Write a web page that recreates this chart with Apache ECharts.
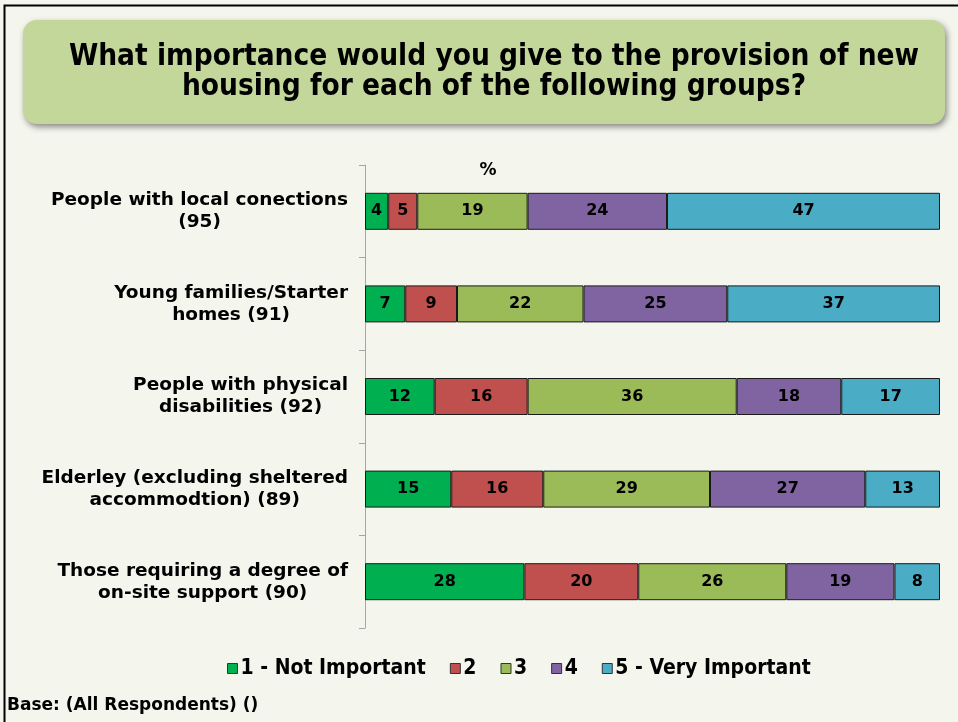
<!DOCTYPE html>
<html>
<head>
<meta charset="utf-8">
<script src="https://cdn.jsdelivr.net/npm/echarts@6/dist/echarts.min.js"></script>
<style>
  html, body { margin: 0; padding: 0; background: #f4f6ee; }
  #chart { width: 958px; height: 722px; }
</style>
</head>
<body>
<div id="chart"></div>
<script>
// Groups asked about, top to bottom
const categories = [
  'People with local conections\n(95)',
  'Young families/Starter\nhomes (91)',
  'People with physical\ndisabilities (92)',
  'Elderley (excluding sheltered\naccommodtion) (89)',
  'Those requiring a degree of\non-site support (90)'
];

// Rating levels and their colours
const levels = ['1 - Not Important', '2', '3', '4', '5 - Very Important'];
const levelColors = ['#00b050', '#c0504d', '#9bbb59', '#8064a2', '#4bacc6'];

// Percentages per rating level, one value per group
const notImportant  = [4, 7, 12, 15, 28];
const level2        = [5, 9, 16, 16, 20];
const level3        = [19, 22, 36, 29, 26];
const level4        = [24, 25, 18, 27, 19];
const veryImportant = [47, 37, 17, 13, 8];

const seriesValues = [notImportant, level2, level3, level4, veryImportant];

// Row totals, so each bar fills the full 100% width
const rowTotals = categories.map((_, i) =>
  seriesValues.reduce((s, arr) => s + arr[i], 0));

const chart = echarts.init(document.getElementById('chart'));

const wideFont = 'Verdana, "DejaVu Sans", sans-serif';
const narrowFont = '"DejaVu Sans Condensed", "DejaVu Sans", sans-serif';

const series = levels.map((name, k) => ({
  name: name,
  type: 'bar',
  stack: 'total',
  barWidth: 37,
  itemStyle: { color: levelColors[k], borderColor: '#1a1a1a', borderWidth: 1 },
  label: {
    show: true,
    position: 'inside',
    color: '#000',
    fontFamily: wideFont,
    fontWeight: 'bold',
    fontSize: 16,
    formatter: p => String(seriesValues[k][p.dataIndex])
  },
  data: seriesValues[k].map((v, i) => ({ value: v / rowTotals[i] * 100 }))
}));

chart.setOption({
  backgroundColor: '#f4f6ee',
  animation: false,
  grid: { left: 365, right: 18, top: 165, bottom: 94, containLabel: false },
  xAxis: {
    type: 'value',
    min: 0,
    max: 100,
    show: false
  },
  yAxis: {
    type: 'category',
    data: categories,
    inverse: true,
    axisLine: { show: true, lineStyle: { color: '#a6a6a6', width: 1 } },
    axisTick: { show: true, length: 6, lineStyle: { color: '#a6a6a6' } },
    axisLabel: {
      align: 'right',
      margin: 17,
      // each line centred within a right-aligned block
      formatter: v => v.split('\n').map(s => '{c|' + s + '}').join('\n'),
      rich: {
        c: {
          align: 'center',
          color: '#000',
          fontFamily: wideFont,
          fontWeight: 'bold',
          fontSize: 18.5,
          lineHeight: 22
        }
      }
    }
  },
  legend: {
    data: levels,
    bottom: 38,
    left: 222,
    itemWidth: 10,
    itemHeight: 10,
    itemGap: 24,
    icon: 'rect',
    itemStyle: { borderColor: '#333', borderWidth: 1 },
    textStyle: {
      color: '#000',
      fontFamily: narrowFont,
      fontWeight: 'bold',
      fontSize: 21,
      padding: [0, 0, 0, -2]
    }
  },
  graphic: [
    // outer frame
    {
      type: 'rect',
      shape: { x: 4.5, y: 5.5, width: 1000, height: 800 },
      style: { fill: null, stroke: '#000', lineWidth: 2 },
      silent: true
    },
    // title panel with shadow
    {
      type: 'rect',
      shape: { x: 23, y: 20, width: 922, height: 104, r: 14 },
      style: {
        fill: '#c4d79b',
        shadowBlur: 6,
        shadowOffsetX: 2,
        shadowOffsetY: 3,
        shadowColor: 'rgba(0,0,0,0.45)'
      },
      silent: true
    },
    {
      type: 'text',
      x: 494,
      y: 42,
      style: {
        text: 'What importance would you give to the provision of new\nhousing for each of the following groups?',
        fill: '#000',
        font: 'bold 29.5px ' + narrowFont,
        align: 'center',
        lineHeight: 30
      }
    },
    {
      type: 'text',
      x: 488,
      y: 171,
      style: {
        text: '%',
        fill: '#000',
        font: 'bold 17px ' + wideFont,
        align: 'center',
        verticalAlign: 'middle'
      }
    },
    {
      type: 'text',
      x: 7,
      y: 706,
      style: {
        text: 'Base: (All Respondents) ()',
        fill: '#000',
        font: 'bold 17px ' + wideFont,
        verticalAlign: 'middle'
      }
    }
  ],
  series: series
});
</script>
</body>
</html>
